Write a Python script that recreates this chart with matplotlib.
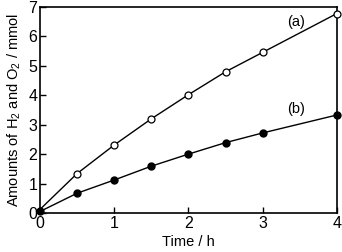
import matplotlib
matplotlib.use("Agg")
import matplotlib.pyplot as plt

plt.rcParams['font.family'] = ['Liberation Sans', 'DejaVu Sans']
plt.rcParams['mathtext.fontset'] = 'custom'
plt.rcParams['mathtext.rm'] = 'Liberation Sans'
plt.rcParams['mathtext.it'] = 'Liberation Sans:italic'

time_a = [0, 0.5, 1, 1.5, 2, 2.5, 3, 4]
h2_a = [0.12, 1.34, 2.31, 3.2, 4.02, 4.8, 5.46, 6.78]
time_b = [0, 0.5, 1, 1.5, 2, 2.5, 3, 4]
val_b = [0.05, 0.67, 1.12, 1.59, 2.0, 2.39, 2.72, 3.33]
xticks = [0, 1, 2, 3, 4]
yticks = [0, 1, 2, 3, 4, 5, 6, 7]

fig = plt.figure(figsize=(3.42, 2.52), dpi=100)
ax = fig.add_axes([0.117, 0.155, 0.868, 0.817])

ax.plot(time_a, h2_a, color='black', lw=1.0, zorder=2)
ax.plot(time_a[1:], h2_a[1:], 'o', ms=5, mfc='white', mec='black', mew=0.9, zorder=3, clip_on=False)
ax.plot(time_b, val_b, color='black', lw=1.0, zorder=2)
ax.plot(time_b, val_b, 'o', ms=5, mfc='black', mec='black', zorder=3, clip_on=False)

ax.text(3.45, 6.5, '(a)', fontsize=10.5, ha='center', va='center')
ax.text(3.45, 3.54, '(b)', fontsize=10.5, ha='center', va='center')

ax.set_xlim(0, 4)
ax.set_ylim(0, 7)
ax.set_xticks(xticks)
ax.set_yticks(yticks)
ax.tick_params(direction='in', length=4, width=1, labelsize=11.5, top=False, right=False, pad=2)
for s in ax.spines.values():
    s.set_linewidth(1.2)
ax.set_xlabel('Time / h', fontsize=10.5, labelpad=3)
ax.set_ylabel('Amounts of H$_2$ and O$_2$ / mmol', fontsize=10.5, labelpad=4)

fig.savefig('out.png', dpi=100)
